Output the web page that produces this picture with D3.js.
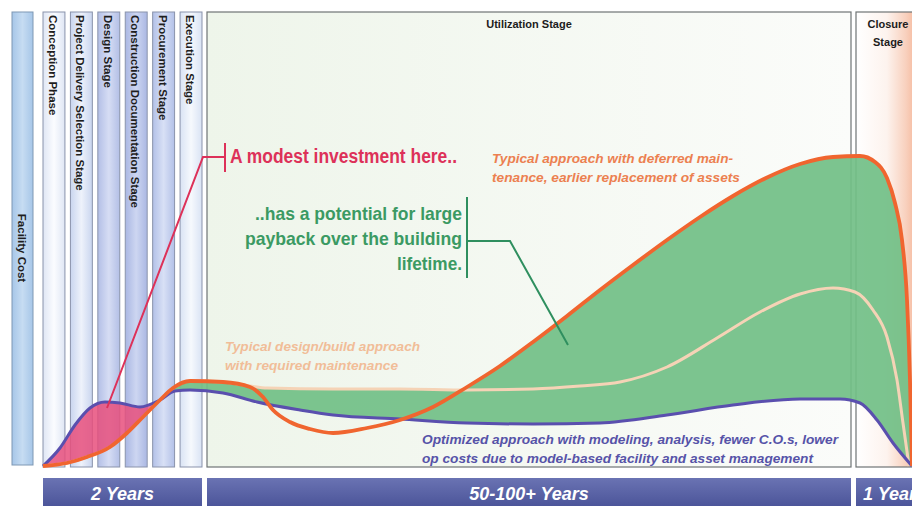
<!DOCTYPE html>
<html lang="en">
<head>
<meta charset="utf-8">
<title>Facility cost over building lifecycle</title>
<script src="https://cdn.jsdelivr.net/npm/d3@7"></script>
<style>
    body { margin: 0; background: #fff; }
    svg { display: block; font-family: "Liberation Sans", Arial, sans-serif; }
</style>
</head>
<body>
<svg></svg>
<script>
    var width = 912;
    var height = 506;

    // timeline units along x (0 = project start), cost index along y
    var stageNames = ["Conception Phase", "Project Delivery Selection Stage", "Design Stage",
        "Construction Documentation Stage", "Procurement Stage", "Execution Stage"];
    var phaseLabels = ["2 Years", "50-100+ Years", "1 Year"];
    var phaseStart = [0, 164, 813];
    var phaseEnd = [159, 808, 890];
    var phaseTitles = ["", "Utilization Stage", "Closure\nStage"];

    // typical approach with deferred maintenance (orange)
    var deferred = [[0, 0], [24, 3], [44, 9], [67, 19], [84, 33], [100, 49], [117, 66], [130, 78],
        [147, 85], [180, 84], [207, 79], [220, 69], [230, 56], [247, 44], [267, 37], [290, 33],
        [324, 38], [357, 46], [390, 59], [424, 79], [457, 100], [490, 124], [524, 150], [557, 176],
        [590, 201], [624, 226], [657, 249], [690, 270], [723, 288], [757, 302], [790, 309],
        [817, 310], [832, 304], [844, 288], [852, 263], [859, 226], [864, 166], [867, 86], [869, 0]];

    // typical design/build with required maintenance (cream)
    var designBuild = [[0, 0], [24, 3], [44, 9], [67, 19], [84, 33], [100, 49], [117, 66], [130, 78],
        [147, 85], [180, 84], [207, 80], [224, 78], [290, 77], [357, 77], [424, 76], [490, 77],
        [537, 80], [577, 84], [624, 99], [674, 128], [717, 154], [757, 172], [790, 178],
        [812, 174], [830, 156], [844, 129], [854, 86], [860, 43], [866, 0]];

    // optimized approach with modeling (blue)
    var optimized = [[0, 0], [17, 18], [32, 41], [47, 58], [62, 64], [77, 63], [97, 59], [117, 66],
        [132, 75], [147, 76], [180, 73], [214, 64], [257, 56], [290, 51], [357, 47], [424, 43],
        [490, 42], [557, 43], [624, 51], [690, 61], [757, 67], [797, 67], [817, 63], [834, 46],
        [850, 23], [869, 0]];

    var stageEdge = ["#dfe6f4", "#c9d5ef", "#b3bfe6", "#aab7e3", "#b3c1e8", "#d9e3f4"];
    var stageMid = ["#fbfcff", "#eef2fb", "#d6ddf4", "#cdd6f1", "#d8e0f5", "#f6f9fd"];

    var svg = d3.select("svg").attr("width", width).attr("height", height);
    var defs = svg.append("defs");

    var x = d3.scaleLinear().domain([0, 870]).range([43, 913]);
    var y = d3.scaleLinear().domain([0, 454]).range([466, 12]);
    var panelTop = 12, panelBottom = 467;

    var stageBand = d3.scaleBand().domain(stageNames)
        .range([x(phaseStart[0]), x(phaseEnd[0])]).paddingInner(0.2);

    // gradients
    stageNames.forEach(function (s, i) {
        var g = defs.append("linearGradient").attr("id", "stage" + i);
        g.append("stop").attr("offset", "0%").attr("stop-color", stageEdge[i]);
        g.append("stop").attr("offset", "50%").attr("stop-color", stageMid[i]);
        g.append("stop").attr("offset", "100%").attr("stop-color", stageEdge[i]);
    });
    var fc = defs.append("linearGradient").attr("id", "facility");
    fc.append("stop").attr("offset", "0%").attr("stop-color", "#a6c6e8");
    fc.append("stop").attr("offset", "50%").attr("stop-color", "#c6dcf2");
    fc.append("stop").attr("offset", "100%").attr("stop-color", "#a6c6e8");

    var bar = defs.append("linearGradient").attr("id", "bar").attr("x1", 0).attr("x2", 0).attr("y1", 0).attr("y2", 1);
    bar.append("stop").attr("offset", "0%").attr("stop-color", "#6a73b3");
    bar.append("stop").attr("offset", "100%").attr("stop-color", "#4a5398");

    var util = defs.append("linearGradient").attr("id", "util");
    util.append("stop").attr("offset", "0%").attr("stop-color", "#eef5ea");
    util.append("stop").attr("offset", "100%").attr("stop-color", "#fbfcfa");

    var clo = defs.append("linearGradient").attr("id", "closure");
    clo.append("stop").attr("offset", "0%").attr("stop-color", "#ffffff");
    clo.append("stop").attr("offset", "40%").attr("stop-color", "#fdf3ee");
    clo.append("stop").attr("offset", "65%").attr("stop-color", "#f8d0bd");
    clo.append("stop").attr("offset", "88%").attr("stop-color", "#f3a582");
    clo.append("stop").attr("offset", "100%").attr("stop-color", "#ee8a62");

    // facility cost label column
    svg.append("rect").attr("x", 12).attr("y", panelTop).attr("width", 21).attr("height", panelBottom - panelTop - 2)
        .attr("fill", "url(#facility)").attr("stroke", "#7e98b4").attr("stroke-width", 1);
    svg.append("text").attr("transform", "translate(18," + 248 + ") rotate(90)")
        .attr("text-anchor", "middle").attr("font-size", "11.5px").attr("font-weight", "bold")
        .attr("fill", "#1e1e1e").text("Facility Cost");

    // stage columns
    var cols = svg.selectAll(".stage").data(stageNames).enter().append("g").attr("class", "stage");
    cols.append("rect")
        .attr("x", function (d) { return stageBand(d); })
        .attr("y", panelTop).attr("width", stageBand.bandwidth()).attr("height", panelBottom - panelTop)
        .attr("fill", function (d, i) { return "url(#stage" + i + ")"; })
        .attr("stroke", "#8a93ab").attr("stroke-width", 1);
    cols.append("text")
        .attr("transform", function (d) { return "translate(" + (stageBand(d) + 6) + "," + (panelTop + 3) + ") rotate(90)"; })
        .attr("font-size", "11.5px").attr("font-weight", "bold").attr("fill", "#1e1e1e")
        .text(function (d) { return d; });

    // utilization + closure panels
    [1, 2].forEach(function (i) {
        svg.append("rect").attr("x", x(phaseStart[i])).attr("y", panelTop)
            .attr("width", x(phaseEnd[i]) - x(phaseStart[i])).attr("height", panelBottom - panelTop)
            .attr("fill", i == 1 ? "url(#util)" : "url(#closure)")
            .attr("stroke", "#6f7475").attr("stroke-width", 1.2);
    });

    // curves
    var curve = d3.curveMonotoneX;
    var line = d3.line().x(function (d) { return x(d[0]); }).y(function (d) { return y(d[1]); }).curve(curve);
    var under = d3.area().x(function (d) { return x(d[0]); }).y0(y(0)).y1(function (d) { return y(d[1]); }).curve(curve);

    // green: between the higher typical curve and the optimized curve
    var gm = defs.append("mask").attr("id", "greenMask");
    gm.append("rect").attr("width", width).attr("height", height).attr("fill", "#000");
    gm.append("path").attr("d", under(deferred)).attr("fill", "#fff");
    gm.append("path").attr("d", under(designBuild)).attr("fill", "#fff");
    gm.append("path").attr("d", under(optimized)).attr("fill", "#000");

    // pink: early period where optimized spends more
    var pm = defs.append("mask").attr("id", "pinkMask");
    pm.append("rect").attr("width", width).attr("height", height).attr("fill", "#000");
    pm.append("path").attr("d", under(optimized)).attr("fill", "#fff");
    pm.append("path").attr("d", under(deferred)).attr("fill", "#000");
    pm.append("rect").attr("x", x(125)).attr("width", width).attr("height", height).attr("fill", "#000");

    svg.append("rect").attr("width", width).attr("height", height)
        .attr("fill", "#72c087").attr("opacity", 0.92).attr("mask", "url(#greenMask)");
    svg.append("rect").attr("width", width).attr("height", height)
        .attr("fill", "#e84f7d").attr("opacity", 0.85).attr("mask", "url(#pinkMask)");

    svg.append("path").attr("d", line(designBuild)).attr("fill", "none")
        .attr("stroke", "#f5d3b6").attr("stroke-width", 3);
    svg.append("path").attr("d", line(optimized)).attr("fill", "none")
        .attr("stroke", "#5a4fae").attr("stroke-width", 3);
    svg.append("path").attr("d", line(deferred)).attr("fill", "none")
        .attr("stroke", "#f0652f").attr("stroke-width", 3.8);

    // phase titles
    svg.append("text").attr("x", (x(phaseStart[1]) + x(phaseEnd[1])) / 2).attr("y", 28)
        .attr("text-anchor", "middle").attr("font-size", "11px").attr("font-weight", "bold")
        .attr("fill", "#1c1c1c").text(phaseTitles[1]);
    phaseTitles[2].split("\n").forEach(function (t, i) {
        svg.append("text").attr("x", 888).attr("y", 28 + i * 18)
            .attr("text-anchor", "middle").attr("font-size", "11px").attr("font-weight", "bold")
            .attr("fill", "#1c1c1c").text(t);
    });

    // bottom duration bars
    phaseLabels.forEach(function (p, i) {
        svg.append("rect").attr("x", x(phaseStart[i])).attr("y", 478)
            .attr("width", x(phaseEnd[i]) - x(phaseStart[i])).attr("height", 30)
            .attr("fill", "url(#bar)");
        var last = i == phaseLabels.length - 1;
        svg.append("text")
            .attr("x", last ? x(phaseStart[i]) + 7 : (x(phaseStart[i]) + x(phaseEnd[i])) / 2)
            .attr("y", 500).attr("text-anchor", last ? "start" : "middle")
            .attr("font-size", "18px").attr("font-weight", "bold").attr("font-style", "italic")
            .attr("fill", "#fff").text(p);
    });

    // annotations
    var red = "#dd3159", green = "#2f8f5f";
    svg.append("path").attr("fill", "none").attr("stroke", red).attr("stroke-width", 2)
        .attr("d", d3.line()([[x(64), y(58)], [x(160), y(309)], [x(182), y(309)]]));
    svg.append("path").attr("stroke", red).attr("stroke-width", 2)
        .attr("d", d3.line()([[x(182), y(323)], [x(182), y(294)]]));
    svg.append("text").attr("x", 230).attr("y", 163).attr("font-size", "20px").attr("font-weight", "bold")
        .attr("fill", red).attr("textLength", 227).attr("lengthAdjust", "spacingAndGlyphs")
        .text("A modest investment here..");

    svg.append("path").attr("fill", "none").attr("stroke", green).attr("stroke-width", 2)
        .attr("d", d3.line()([[x(424), y(225)], [x(467), y(225)], [x(525), y(121)]]));
    svg.append("path").attr("stroke", green).attr("stroke-width", 2)
        .attr("d", d3.line()([[x(424), y(269)], [x(424), y(188)]]));
    var greenLines = [["..has a potential for large", 255, 220, 207],
        ["payback over the building", 245, 245, 217],
        ["lifetime.", 397, 270, 65]];
    greenLines.forEach(function (g) {
        svg.append("text").attr("x", g[1]).attr("y", g[2]).attr("font-size", "19px").attr("font-weight", "bold")
            .attr("fill", "#3b9a63").attr("textLength", g[3]).attr("lengthAdjust", "spacingAndGlyphs").text(g[0]);
    });

    function note(lines, x0, y0, color) {
        lines.forEach(function (l, i) {
            svg.append("text").attr("x", x0).attr("y", y0[i]).attr("font-size", "12.5px")
                .attr("font-weight", "bold").attr("font-style", "italic").attr("fill", color)
                .attr("textLength", l[1]).attr("lengthAdjust", "spacingAndGlyphs").text(l[0]);
        });
    }
    note([["Typical approach with deferred main-", 241], ["tenance, earlier replacement of assets", 248]],
        492, [163, 182], "#ec8050");
    note([["Typical design/build approach", 195], ["with required maintenance", 173]],
        225, [351, 370], "#f1bd98");
    note([["Optimized approach with modeling, analysis, fewer C.O.s, lower", 416],
        ["op costs due to model-based facility and asset management", 391]],
        422, [444, 463], "#5653a8");
</script>
</body>
</html>
